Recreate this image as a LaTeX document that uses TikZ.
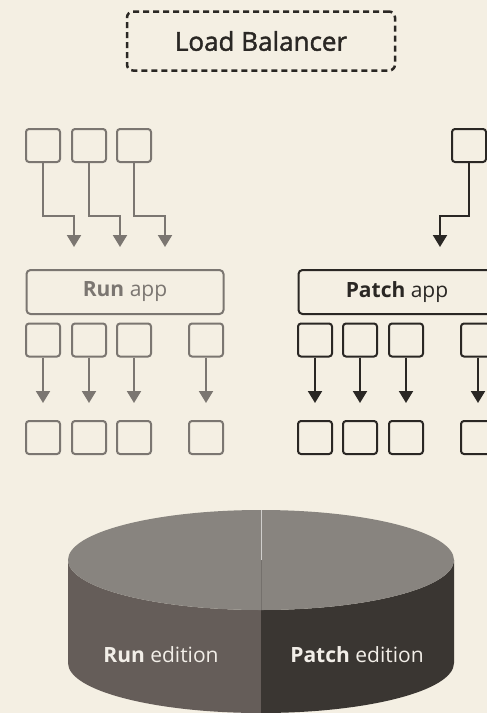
\documentclass[tikz,border=0pt]{standalone}
\usepackage{fontspec}
\setmainfont{Open Sans}
\newfontfamily\lbfont{Open Sans}[FakeBold=1.6]
\usetikzlibrary{arrows.meta,positioning}
\definecolor{paper}{HTML}{F4EFE3}
\definecolor{rungray}{HTML}{7B7671}
\definecolor{patchblk}{HTML}{2A2724}
\definecolor{dbtop}{HTML}{88847F}
\definecolor{dbrun}{HTML}{655D59}
\definecolor{dbpatch}{HTML}{3A3632}
\definecolor{dbtext}{HTML}{F2EEE8}
\begin{document}
\begin{tikzpicture}[
  x=1pt, y=-1pt,
  unit/.style={draw, rounded corners=3pt, line width=2pt, minimum width=34pt, minimum height=33pt, inner sep=0pt},
  app/.style={draw, rounded corners=4pt, line width=2pt, minimum width=197pt, minimum height=44pt, font=\fontsize{21}{24}\selectfont},
  flow/.style={line width=2pt, -{Triangle[length=12pt,width=14pt]}},
  run/.style={rungray, text=rungray},
  patch/.style={patchblk, text=patchblk},
  edition/.style={text=dbtext, font=\fontsize{21}{24}\selectfont}
]
\fill[paper] (0,0) rectangle (487,713);
\useasboundingbox (0,0) rectangle (487,713);

\node[draw, patchblk, dash pattern=on 6pt off 4pt, line width=2.5pt, rounded corners=6pt,
  minimum width=268pt, minimum height=59pt, font=\fontsize{26}{30}\lbfont] (lb) at (261,41) {Load Balancer};

% run side
\node[app, run] (runapp) at (125,292) {\textbf{Run} app};
\foreach \i/\x in {1/43, 2/89, 3/134} {
  \node[unit, run] (rt\i) at (\x,145.5) {};
  \coordinate (rin\i) at (\x+31,247);
  \draw[flow, run] (rt\i.south) -- ++(0,53) -| (rin\i);
}
\foreach \i/\x in {1/43, 2/89, 3/134, 4/206} {
  \node[unit, run] (rm\i) at (\x,340) {};
  \node[unit, run] (rb\i) at (\x,437.5) {};
  \coordinate (rout\i) at (\x,403);
  \draw[flow, run] (rm\i.south) -- (rout\i);
}

% patch side
\node[app, patch] (patchapp) at (397,292) {\textbf{Patch} app};
\node[unit, patch] (pt1) at (469,145.5) {};
\coordinate (pin1) at (440,247);
\draw[flow, patch] (pt1.south) -- ++(0,53) -| (pin1);
\foreach \i/\x in {1/315, 2/360, 3/406, 4/478} {
  \node[unit, patch] (pm\i) at (\x,340) {};
  \node[unit, patch] (pb\i) at (\x,437.5) {};
  \coordinate (pout\i) at (\x,403);
  \draw[flow, patch] (pm\i.south) -- (pout\i);
}

% database
\fill[dbrun] (68,560) -- (68,663) arc[start angle=180, end angle=90, x radius=193, y radius=50]
  -- (261,610) arc[start angle=90, end angle=180, x radius=193, y radius=50] -- cycle;
\fill[dbpatch] (261,610) -- (261,713) arc[start angle=90, end angle=0, x radius=193, y radius=50]
  -- (454,560) arc[start angle=0, end angle=90, x radius=193, y radius=50] -- cycle;
\fill[dbtop] (261,560) ellipse[x radius=193, y radius=50];
\draw[line width=0.8pt, white!60!dbtop] (261,510) -- (261,560);
\draw[line width=0.6pt, dbtop!85!black] (261,560) -- (261,610);
\node[edition] (runed) at (161,655) {\textbf{Run} edition};
\node[edition] (patched) at (357,655) {\textbf{Patch} edition};
\end{tikzpicture}
\end{document}
